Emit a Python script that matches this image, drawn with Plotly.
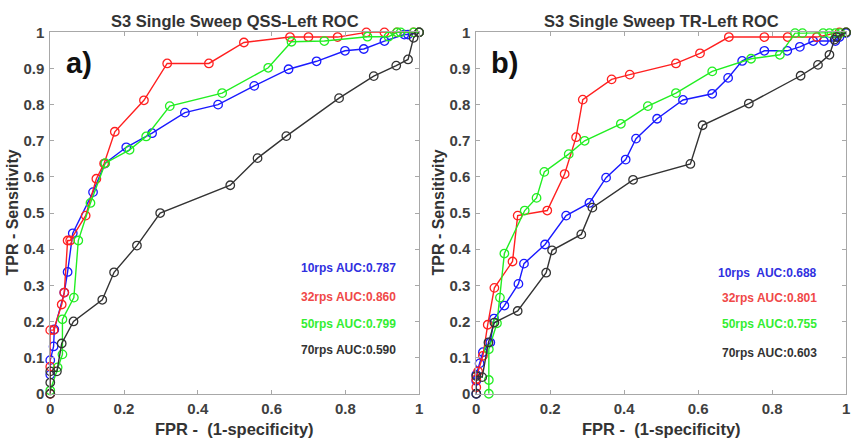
import plotly.graph_objects as go

# ---------------- data: left (QSS-Left) ----------------
qss_10_fpr = [0, 0, 0.009, 0.011, 0.038, 0.047, 0.061, 0.116, 0.148, 0.206, 0.276, 0.365, 0.455, 0.553, 0.646, 0.722, 0.799, 0.85, 0.906, 0.96, 0.97, 1.0]
qss_10_tpr = [0.053, 0.093, 0.131, 0.178, 0.28, 0.337, 0.444, 0.558, 0.637, 0.682, 0.721, 0.778, 0.80, 0.852, 0.898, 0.92, 0.949, 0.954, 0.976, 0.994, 0.994, 1.0]

qss_32_fpr = [0, 0, 0, 0.009, 0.031, 0.038, 0.047, 0.054, 0.096, 0.125, 0.146, 0.175, 0.254, 0.317, 0.43, 0.525, 0.65, 0.70, 0.779, 0.857, 0.906, 0.94, 0.985, 1.0]
qss_32_tpr = [0.0, 0.075, 0.176, 0.176, 0.247, 0.28, 0.424, 0.424, 0.493, 0.595, 0.637, 0.725, 0.812, 0.914, 0.914, 0.972, 0.987, 0.987, 0.987, 1.0, 1.0, 1.0, 1.0, 1.0]

qss_50_fpr = [0, 0.02, 0.033, 0.033, 0.064, 0.076, 0.109, 0.149, 0.215, 0.26, 0.324, 0.466, 0.591, 0.654, 0.743, 0.86, 0.917, 0.94, 0.95, 0.985, 1.0]
qss_50_tpr = [0.009, 0.073, 0.109, 0.206, 0.266, 0.424, 0.528, 0.638, 0.675, 0.712, 0.796, 0.832, 0.902, 0.974, 0.976, 0.988, 0.988, 1.0, 1.0, 1.0, 1.0]

qss_70_fpr = [0, 0, 0, 0.018, 0.031, 0.063, 0.141, 0.173, 0.235, 0.298, 0.488, 0.562, 0.64, 0.783, 0.877, 0.938, 0.97, 0.985, 1.0]
qss_70_tpr = [0.0, 0.031, 0.062, 0.062, 0.139, 0.2, 0.26, 0.336, 0.41, 0.5, 0.577, 0.652, 0.713, 0.818, 0.879, 0.908, 0.925, 0.985, 1.0]

# ---------------- data: right (TR-Left) ----------------
tr_10_fpr = [0, 0, 0, 0.009, 0.018, 0.038, 0.048, 0.076, 0.114, 0.129, 0.186, 0.243, 0.306, 0.351, 0.404, 0.432, 0.489, 0.559, 0.638, 0.681, 0.719, 0.779, 0.841, 0.875, 0.911, 0.94, 0.971, 0.982, 1.0]
tr_10_tpr = [0.0, 0.036, 0.053, 0.084, 0.115, 0.142, 0.208, 0.244, 0.304, 0.36, 0.413, 0.493, 0.528, 0.598, 0.648, 0.706, 0.761, 0.813, 0.83, 0.874, 0.921, 0.949, 0.949, 0.96, 0.976, 0.976, 0.976, 0.987, 0.998]

tr_32_fpr = [0, 0, 0.005, 0.018, 0.031, 0.049, 0.098, 0.112, 0.192, 0.239, 0.27, 0.288, 0.366, 0.415, 0.54, 0.605, 0.683, 0.779, 0.842, 0.921, 0.982, 1.0]
tr_32_tpr = [0.018, 0.04, 0.062, 0.105, 0.191, 0.293, 0.366, 0.493, 0.507, 0.608, 0.71, 0.814, 0.87, 0.883, 0.914, 0.942, 0.987, 0.987, 0.987, 0.987, 1.0, 1.0]

tr_50_fpr = [0.034, 0.034, 0.034, 0.056, 0.064, 0.076, 0.131, 0.163, 0.184, 0.25, 0.293, 0.391, 0.464, 0.54, 0.638, 0.743, 0.821, 0.862, 0.882, 0.938, 0.955, 0.971, 0.985, 1.0]
tr_50_tpr = [0.0, 0.038, 0.123, 0.195, 0.266, 0.388, 0.507, 0.542, 0.614, 0.663, 0.7, 0.747, 0.796, 0.832, 0.892, 0.927, 0.938, 0.998, 0.998, 0.998, 0.998, 0.998, 0.998, 1.0]

tr_70_fpr = [0, 0, 0.016, 0.033, 0.049, 0.112, 0.189, 0.205, 0.284, 0.314, 0.424, 0.579, 0.612, 0.737, 0.877, 0.924, 0.955, 0.969, 0.975, 1.0]
tr_70_tpr = [0.0, 0.049, 0.046, 0.142, 0.197, 0.229, 0.335, 0.397, 0.441, 0.515, 0.592, 0.636, 0.743, 0.803, 0.88, 0.91, 0.938, 0.98, 0.987, 1.0]

titles = ["S3 Single Sweep QSS-Left ROC", "S3 Single Sweep TR-Left ROC"]
panel_labels = ["a)", "b)"]
auc_left = ["10rps AUC:0.787", "32rps AUC:0.860", "50rps AUC:0.799", "70rps AUC:0.590"]
auc_right = ["10rps&nbsp; AUC:0.688", "32rps AUC:0.801", "50rps AUC:0.755", "70rps AUC:0.603"]
x_title = "FPR - &nbsp;(1-specificity)"
y_title = "TPR - Sensitivity"

line_colors = ["#1a1aff", "#ff2020", "#22ee22", "#333333"]
text_colors = ["#3030e0", "#f04848", "#33ee33", "#333333"]

W, H = 859, 446
FONT = "Liberation Sans, Arial, sans-serif"

fig = go.Figure()

left_series = [(qss_10_fpr, qss_10_tpr), (qss_32_fpr, qss_32_tpr), (qss_50_fpr, qss_50_tpr), (qss_70_fpr, qss_70_tpr)]
right_series = [(tr_10_fpr, tr_10_tpr), (tr_32_fpr, tr_32_tpr), (tr_50_fpr, tr_50_tpr), (tr_70_fpr, tr_70_tpr)]

for xa, ya, series in [("x", "y", left_series), ("x2", "y2", right_series)]:
    for (xs, ys), c in zip(series, line_colors):
        fig.add_trace(go.Scatter(x=xs, y=ys, mode="lines+markers", xaxis=xa, yaxis=ya,
                                 line=dict(color=c, width=1.4),
                                 marker=dict(symbol="circle-open", size=8.5, color=c,
                                             line=dict(width=1.3, color=c)),
                                 cliponaxis=False, showlegend=False))

# plot area in pixels
left_px = (46.7, 419.0)
right_px = (476.7, 850.0)
top_px, bot_px = 24.3, 400.0

ydom = [(H - bot_px) / H, (H - top_px) / H]
tickfont = dict(family=FONT, size=15, color="#404040", weight="bold")
axcommon = dict(range=[0, 1], showgrid=False, zeroline=False, showline=True, linecolor="#a8a8a8",
                linewidth=1, mirror="ticks", ticks="inside", ticklen=4, tickcolor="#a8a8a8",
                tickfont=tickfont)

fig.update_layout(
    width=W, height=H, margin=dict(l=0, r=0, t=0, b=0),
    paper_bgcolor="white", plot_bgcolor="white",
    xaxis=dict(domain=[left_px[0] / W, left_px[1] / W], anchor="y", dtick=0.2, tick0=0,
               ticklabelstandoff=1, **axcommon),
    yaxis=dict(domain=ydom, anchor="x", dtick=0.1, tick0=0, ticklabelstandoff=2, **axcommon),
    xaxis2=dict(domain=[right_px[0] / W, right_px[1] / W], anchor="y2", dtick=0.2, tick0=0,
                ticklabelstandoff=1, **axcommon),
    yaxis2=dict(domain=ydom, anchor="x2", dtick=0.1, tick0=0, ticklabelstandoff=2, **axcommon),
)

anns = []
for i, (px0, px1) in enumerate([left_px, right_px]):
    cx = (px0 + px1) / 2 / W
    anns.append(dict(text=titles[i], x=cx, y=(H - 12) / H, xref="paper", yref="paper",
                     showarrow=False, xanchor="center", yanchor="middle",
                     font=dict(family=FONT, size=16.5, color="#333333", weight="bold")))
    anns.append(dict(text=x_title, x=cx, y=(H - 437) / H, xref="paper", yref="paper",
                     showarrow=False, xanchor="center", yanchor="middle",
                     font=dict(family=FONT, size=16.5, color="#333333", weight="bold")))
    anns.append(dict(text=y_title, x=(px0 - 38) / W, y=(H - 212) / H, xref="paper", yref="paper",
                     showarrow=False, xanchor="center", yanchor="middle", textangle=-90,
                     font=dict(family=FONT, size=16, color="#333333", weight="bold")))
    anns.append(dict(text=panel_labels[i], x=(px0 + 29) / W, y=(H - 56) / H, xref="paper", yref="paper",
                     showarrow=False, xanchor="center", yanchor="middle",
                     font=dict(family=FONT, size=29, color="#111111", weight="bold")))

left_y = [0.349, 0.269, 0.194, 0.12]
right_y = [0.335, 0.266, 0.192, 0.114]
for txt, yv, c in zip(auc_left, left_y, text_colors):
    anns.append(dict(text=txt, x=0.944, y=yv, xref="x", yref="y", showarrow=False,
                     xanchor="right", yanchor="middle",
                     font=dict(family=FONT, size=12, color=c, weight="bold")))
for txt, yv, c in zip(auc_right, right_y, text_colors):
    anns.append(dict(text=txt, x=0.928, y=yv, xref="x2", yref="y2", showarrow=False,
                     xanchor="right", yanchor="middle",
                     font=dict(family=FONT, size=12, color=c, weight="bold")))

fig.update_layout(annotations=anns)
fig.write_html("out.html")
